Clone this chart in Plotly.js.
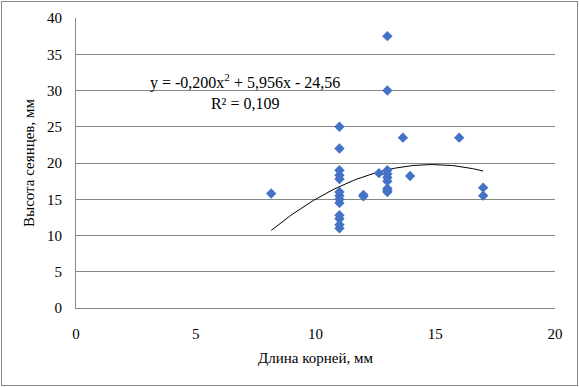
<!DOCTYPE html>
<html>
<head>
<meta charset="utf-8">
<script src="https://cdn.plot.ly/plotly-3.0.1.min.js"></script>
<style>
  html, body { margin: 0; padding: 0; background: #fff; }
  #wrap { position: relative; width: 579px; height: 387px; }
  #chart { width: 579px; height: 387px; }
  #frame { position: absolute; left: 1px; top: 1px; width: 575px; height: 383px;
           border: 1px solid #868686; pointer-events: none; }
</style>
</head>
<body>
<div id="wrap"><div id="chart"></div><div id="frame"></div></div>
<script>
// Data
const rootLength = [8.15,
  11, 11, 11, 11, 11, 11, 11, 11, 11, 11, 11, 11, 11,
  12, 12, 12.65,
  13, 13, 13, 13, 13, 13, 13, 13, 13,
  13.65, 13.95, 16, 17, 17];
const seedlingHeight = [15.8,
  25, 22, 19, 18.3, 17.8, 16, 15.5, 15, 14.5, 12.8, 12.3, 11.5, 11,
  15.6, 15.4, 18.6,
  37.5, 30, 19, 18.5, 18, 17.5, 16.5, 16.2, 16,
  23.5, 18.2, 23.5, 16.6, 15.5];

// Polynomial trendline as printed on the chart: y = a*x^2 + b*x + c
const trendCoef = [-0.200, 5.956, -24.56];
const trendRange = [8.15, 17];
const trendLabel = 'y = -0,200x<sup>2</sup> + 5,956x - 24,56<br>R² = 0,109';

const xTickVals = [0, 5, 10, 15, 20];
const yTickVals = [0, 5, 10, 15, 20, 25, 30, 35, 40];

const trendX = [], trendY = [];
const steps = 80;
for (let i = 0; i <= steps; i++) {
  const x = trendRange[0] + (trendRange[1] - trendRange[0]) * i / steps;
  trendX.push(x);
  trendY.push(trendCoef[0] * x * x + trendCoef[1] * x + trendCoef[2]);
}

const serif = "'Liberation Serif', 'Times New Roman', 'DejaVu Serif', serif";

const traces = [
  {
    x: trendX, y: trendY, type: 'scatter', mode: 'lines',
    line: { color: '#000000', width: 1 }, hoverinfo: 'skip', showlegend: false
  },
  {
    x: rootLength, y: seedlingHeight, type: 'scatter', mode: 'markers',
    marker: { symbol: 'diamond', size: 8, color: '#4472C4' },
    showlegend: false
  }
];

const layout = {
  width: 579, height: 387,
  margin: { l: 76, r: 24, t: 18, b: 79 },
  paper_bgcolor: '#ffffff', plot_bgcolor: '#ffffff',
  font: { family: serif, size: 15, color: '#000000' },
  showlegend: false,
  xaxis: {
    range: [0, 20], tickvals: xTickVals, ticktext: xTickVals.map(String),
    showgrid: false, zeroline: false,
    showline: true, linecolor: '#868686', linewidth: 1,
    ticks: '', ticklen: 0, ticklabelstandoff: 12,
    tickfont: { family: serif, size: 15, color: '#000' },
    title: { text: 'Длина корней, мм', font: { family: serif, size: 15, color: '#000' }, standoff: 11 }
  },
  yaxis: {
    range: [0, 40], tickvals: yTickVals, ticktext: yTickVals.map(String),
    showgrid: true, gridcolor: '#868686', gridwidth: 1,
    zeroline: false,
    showline: true, linecolor: '#868686', linewidth: 1,
    ticks: '', ticklen: 0, ticklabelstandoff: 10,
    tickfont: { family: serif, size: 15, color: '#000' },
    title: { text: 'Высота сеянцев, мм', font: { family: serif, size: 15, color: '#000' }, standoff: 8 }
  },
  annotations: [
    {
      x: 7.05, y: 29.9, xref: 'x', yref: 'y',
      text: trendLabel, showarrow: false,
      align: 'center', xanchor: 'center', yanchor: 'middle',
      font: { family: serif, size: 16, color: '#000' }
    }
  ]
};

Plotly.newPlot('chart', traces, layout, { displayModeBar: false, staticPlot: true });
</script>
</body>
</html>
